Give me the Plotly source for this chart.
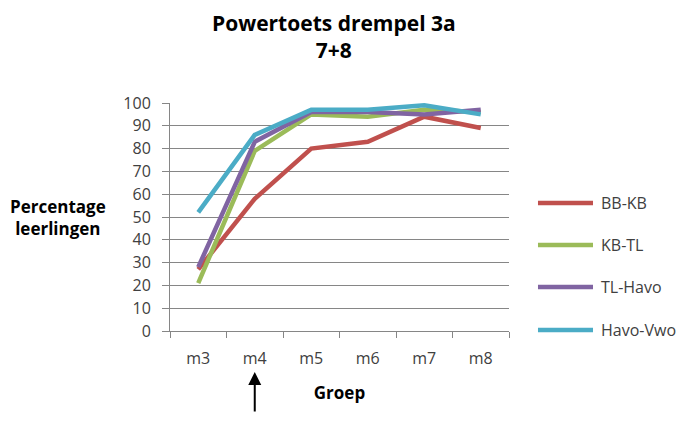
import plotly.graph_objects as go

groepen = ["m3", "m4", "m5", "m6", "m7", "m8"]

bb_kb = [27, 58, 80, 83, 94, 89]
kb_tl = [21, 79, 95, 94, 97, 96]
tl_havo = [28, 83, 96, 96, 95, 97]
havo_vwo = [52, 86, 97, 97, 99, 95]

series = [
    ("BB-KB", bb_kb, "#C0504D"),
    ("KB-TL", kb_tl, "#9BBB59"),
    ("TL-Havo", tl_havo, "#8064A2"),
    ("Havo-Vwo", havo_vwo, "#4BACC6"),
]

FONT = "Open Sans"

fig = go.Figure()

for name, values, color in series:
    fig.add_trace(
        go.Scatter(
            x=groepen,
            y=values,
            mode="lines",
            name=name,
            showlegend=False,
            line=dict(width=4.5, color=color)
        )
    )

# legend drawn by hand so it can sit as far right as in the original
legend_y = [0.561, 0.377, 0.193, 0.004]

for (name, values, color), ly in zip(series, legend_y):
    fig.add_shape(
        type="line",
        xref="paper",
        yref="paper",
        x0=1.0855,
        x1=1.2478,
        y0=ly,
        y1=ly,
        line=dict(width=4.5, color=color)
    )
    fig.add_annotation(
        text=name,
        xref="paper",
        yref="paper",
        x=1.266,
        y=ly,
        xanchor="left",
        yanchor="middle",
        showarrow=False,
        font=dict(family=FONT, size=16, color="#404040")
    )

# the page body adds 8px, so the figure is 16px smaller than the window
fig.update_layout(
    width=673,
    height=405,
    font=dict(family=FONT, size=16, color="#404040"),
    plot_bgcolor="#fff",
    paper_bgcolor="#fff",
    margin=dict(l=162, r=172, t=95, b=82),
    showlegend=False,
    xaxis=dict(
        range=[-0.5, 5.5],
        showgrid=False,
        showline=True,
        linecolor="#868686",
        linewidth=1,
        ticks="outside",
        tickson="boundaries",
        ticklen=6,
        tickcolor="#868686",
        ticklabelstandoff=13,
        tickfont=dict(size=16, color="#404040"),
        title=dict(
            text="<b>Groep</b>",
            font=dict(family=FONT, size=17, color="#000"),
            standoff=18
        )
    ),
    yaxis=dict(
        range=[0, 100],
        dtick=10,
        showgrid=True,
        gridcolor="#868686",
        gridwidth=1,
        showline=True,
        linecolor="#868686",
        linewidth=1,
        ticks="outside",
        ticklen=7,
        tickcolor="#868686",
        ticklabelstandoff=8,
        tickfont=dict(size=16, color="#404040"),
        zeroline=False
    )
)

fig.add_annotation(
    text="<b>Powertoets drempel 3a<br>7+8</b>",
    xref="paper",
    yref="paper",
    x=(326 - 162) / 339,
    y=1.29,
    xanchor="center",
    yanchor="middle",
    showarrow=False,
    font=dict(family=FONT, size=21, color="#000")
)

fig.add_annotation(
    text="<b>Percentage<br>leerlingen</b>",
    xref="paper",
    yref="paper",
    x=-0.33,
    y=0.496,
    xanchor="center",
    yanchor="middle",
    showarrow=False,
    font=dict(family=FONT, size=17, color="#000")
)

fig.add_annotation(
    x="m4",
    y=-0.18,
    xref="x",
    yref="paper",
    ax=0,
    ay=48,
    text="",
    showarrow=True,
    arrowhead=2,
    arrowsize=1.3,
    arrowwidth=2,
    arrowcolor="#000"
)

fig.write_html("out.html")
